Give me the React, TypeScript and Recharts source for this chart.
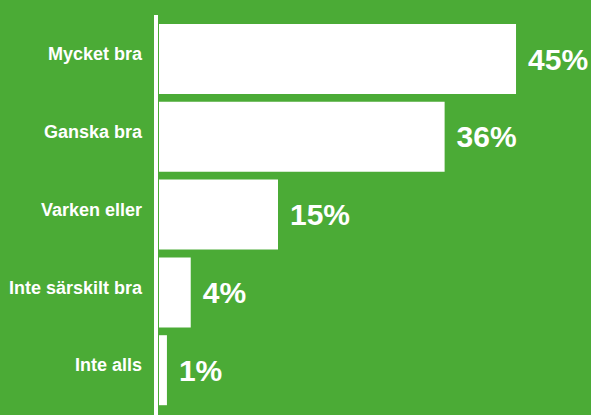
import React from "react";
import { BarChart, Bar, XAxis, YAxis, LabelList } from "recharts";

const categories = [
  "Mycket bra",
  "Ganska bra",
  "Varken eller",
  "Inte särskilt bra",
  "Inte alls",
];
const shares = [45, 36, 15, 4, 1];

const GREEN = "#4bab36";
const FONT = "'Liberation Sans', Arial, sans-serif";

const data = categories.map((name, i) => ({ name, value: shares[i] }));

const App = () => {
  return (
    <div
      style={{
        position: "absolute",
        left: 0,
        top: 0,
        width: 591,
        height: 415,
        background: GREEN,
        fontFamily: FONT,
      }}
    >
      <BarChart
        width={591}
        height={415}
        data={data}
        layout="vertical"
        margin={{ top: 15, right: 0, bottom: 0, left: 0 }}
      >
        <XAxis
          type="number"
          hide
          domain={[-0.378, 54.45]}
          allowDataOverflow
        />
        <YAxis
          type="category"
          dataKey="name"
          width={156}
          padding={{ top: 5, bottom: 6 }}
          axisLine={{ stroke: "#ffffff", strokeWidth: 4 }}
          tickLine={false}
          tickSize={0}
          tickMargin={14}
          tick={{
            fill: "#ffffff",
            fontSize: 18,
            fontWeight: "bold",
            fontFamily: FONT,
            dy: -5,
          }}
        />
        <Bar
          dataKey="value"
          fill="#ffffff"
          barSize={70}
          isAnimationActive={false}
        >
          <LabelList
            dataKey="value"
            position="right"
            offset={12}
            formatter={(v: any) => `${v}%`}
            fill="#ffffff"
            fontSize={30}
            fontWeight="bold"
            fontFamily={FONT}
          />
        </Bar>
      </BarChart>
    </div>
  );
};

export default App;
